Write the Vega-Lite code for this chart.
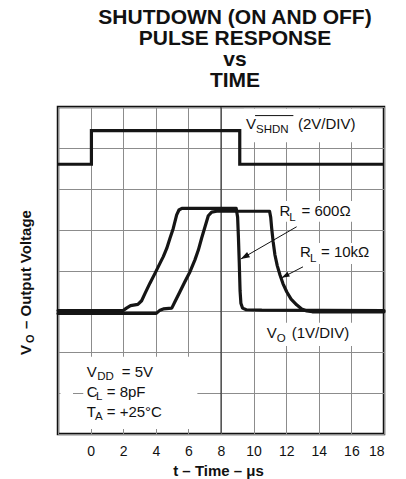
{
  "$schema": "https://vega.github.io/schema/vega-lite/v6.json",
  "width": 326,
  "height": 327,
  "autosize": {"type": "none"},
  "padding": {"left": 58, "top": 107, "right": 22, "bottom": 45},
  "background": "white",
  "title": {
    "text": ["SHUTDOWN (ON AND OFF)", "PULSE RESPONSE", "vs", "TIME"],
    "font": "Liberation Sans",
    "fontSize": 21,
    "fontWeight": "bold",
    "lineHeight": 21,
    "color": "#111111",
    "anchor": "middle",
    "frame": "group",
    "dx": 14,
    "offset": 16
  },
  "config": {
    "view": {"stroke": "#111111", "strokeWidth": 2.5},
    "font": "Liberation Sans"
  },
  "datasets": {
    "masks": [
      {"x": 9.4, "x2": 16.53, "y": 7.14, "y2": 7.96},
      {"x": 11.44, "x2": 16.4, "y": 5.19, "y2": 5.7},
      {"x": 12.66, "x2": 17.63, "y": 4.16, "y2": 4.67},
      {"x": 10.64, "x2": 16.1, "y": 2.15, "y2": 2.72},
      {"x": -0.45, "x2": 6.55, "y": 0.12, "y2": 1.89},
      {"x": -1.85, "x2": -1.08, "y": 0.9, "y2": 1.1}
    ],
    "center": [{"x": 8}],
    "overline": [{"x": 10.09, "x2": 12.44, "y": 7.79}],
    "curves": [
      {"s": "shdn", "i": 0, "x": -2, "y": 6.6},
      {"s": "shdn", "i": 1, "x": 0.05, "y": 6.6},
      {"s": "shdn", "i": 2, "x": 0.05, "y": 7.42},
      {"s": "shdn", "i": 3, "x": 9.15, "y": 7.42},
      {"s": "shdn", "i": 4, "x": 9.15, "y": 6.6},
      {"s": "shdn", "i": 5, "x": 18, "y": 6.6},
      {"s": "600", "i": 0, "x": -2, "y": 3.02},
      {"s": "600", "i": 1, "x": 2.0, "y": 3.02},
      {"s": "600", "i": 2, "x": 2.2, "y": 3.08},
      {"s": "600", "i": 3, "x": 2.45, "y": 3.14},
      {"s": "600", "i": 4, "x": 2.9, "y": 3.17},
      {"s": "600", "i": 5, "x": 3.13, "y": 3.26},
      {"s": "600", "i": 6, "x": 3.34, "y": 3.44},
      {"s": "600", "i": 7, "x": 3.64, "y": 3.69},
      {"s": "600", "i": 8, "x": 3.95, "y": 3.93},
      {"s": "600", "i": 9, "x": 4.26, "y": 4.18},
      {"s": "600", "i": 10, "x": 4.46, "y": 4.34},
      {"s": "600", "i": 11, "x": 4.67, "y": 4.54},
      {"s": "600", "i": 12, "x": 4.87, "y": 4.79},
      {"s": "600", "i": 13, "x": 5.07, "y": 5.03},
      {"s": "600", "i": 14, "x": 5.28, "y": 5.36},
      {"s": "600", "i": 15, "x": 5.42, "y": 5.48},
      {"s": "600", "i": 16, "x": 5.6, "y": 5.52},
      {"s": "600", "i": 17, "x": 8.93, "y": 5.52},
      {"s": "600", "i": 18, "x": 9.02, "y": 5.3},
      {"s": "600", "i": 19, "x": 9.07, "y": 4.8},
      {"s": "600", "i": 20, "x": 9.12, "y": 4.2},
      {"s": "600", "i": 21, "x": 9.17, "y": 3.5},
      {"s": "600", "i": 22, "x": 9.22, "y": 3.2},
      {"s": "600", "i": 23, "x": 9.32, "y": 3.08},
      {"s": "600", "i": 24, "x": 9.55, "y": 3.04},
      {"s": "600", "i": 25, "x": 10.5, "y": 3.03},
      {"s": "600", "i": 26, "x": 18, "y": 3.02},
      {"s": "10k", "i": 0, "x": -2, "y": 2.95},
      {"s": "10k", "i": 1, "x": 4.03, "y": 2.95},
      {"s": "10k", "i": 2, "x": 4.26, "y": 3.03},
      {"s": "10k", "i": 3, "x": 4.46, "y": 3.06},
      {"s": "10k", "i": 4, "x": 4.98, "y": 3.08},
      {"s": "10k", "i": 5, "x": 5.18, "y": 3.24},
      {"s": "10k", "i": 6, "x": 5.48, "y": 3.48},
      {"s": "10k", "i": 7, "x": 5.79, "y": 3.73},
      {"s": "10k", "i": 8, "x": 6.1, "y": 3.97},
      {"s": "10k", "i": 9, "x": 6.4, "y": 4.26},
      {"s": "10k", "i": 10, "x": 6.61, "y": 4.5},
      {"s": "10k", "i": 11, "x": 6.81, "y": 4.79},
      {"s": "10k", "i": 12, "x": 7.02, "y": 5.07},
      {"s": "10k", "i": 13, "x": 7.22, "y": 5.34},
      {"s": "10k", "i": 14, "x": 7.43, "y": 5.43},
      {"s": "10k", "i": 15, "x": 7.74, "y": 5.45},
      {"s": "10k", "i": 16, "x": 10.98, "y": 5.45},
      {"s": "10k", "i": 17, "x": 11.05, "y": 5.3},
      {"s": "10k", "i": 18, "x": 11.11, "y": 5.03},
      {"s": "10k", "i": 19, "x": 11.2, "y": 4.7},
      {"s": "10k", "i": 20, "x": 11.31, "y": 4.38},
      {"s": "10k", "i": 21, "x": 11.45, "y": 4.12},
      {"s": "10k", "i": 22, "x": 11.62, "y": 3.89},
      {"s": "10k", "i": 23, "x": 11.8, "y": 3.68},
      {"s": "10k", "i": 24, "x": 12.03, "y": 3.48},
      {"s": "10k", "i": 25, "x": 12.3, "y": 3.3},
      {"s": "10k", "i": 26, "x": 12.64, "y": 3.16},
      {"s": "10k", "i": 27, "x": 12.95, "y": 3.06},
      {"s": "10k", "i": 28, "x": 13.26, "y": 3.01},
      {"s": "10k", "i": 29, "x": 13.6, "y": 2.99},
      {"s": "10k", "i": 30, "x": 18, "y": 2.99}
    ],
    "arrows": [
      {"id": "a1", "x": 9.21, "y": 4.28, "x2": 12.64, "y2": 5.07},
      {"id": "a2", "x": 11.72, "y": 3.82, "x2": 13.03, "y2": 4.09}
    ],
    "main": [
      {"x": 9.534, "y": 7.462, "t": "V"},
      {"x": 12.724, "y": 7.462, "t": "(2V/DIV)"},
      {"x": 11.589, "y": 5.341, "t": "R"},
      {"x": 12.939, "y": 5.341, "t": "= 600Ω"},
      {"x": 12.847, "y": 4.338, "t": "R"},
      {"x": 14.135, "y": 4.338, "t": "= 10kΩ"},
      {"x": 10.804, "y": 2.341, "t": "V"},
      {"x": 12.337, "y": 2.341, "t": "(1V/DIV)"},
      {"x": -0.239, "y": 1.402, "t": "V"},
      {"x": 1.908, "y": 1.402, "t": "= 5V"},
      {"x": -0.239, "y": 0.913, "t": "C"},
      {"x": 0.988, "y": 0.913, "t": "= 8pF"},
      {"x": -0.239, "y": 0.423, "t": "T"},
      {"x": 0.988, "y": 0.423, "t": "= +25°C"}
    ],
    "subs": [
      {"x": 10.147, "y": 7.376, "t": "SHDN"},
      {"x": 12.19, "y": 5.218, "t": "L"},
      {"x": 13.46, "y": 4.215, "t": "L"},
      {"x": 11.417, "y": 2.258, "t": "O"},
      {"x": 0.411, "y": 1.321, "t": "DD"},
      {"x": 0.331, "y": 0.832, "t": "L"},
      {"x": 0.27, "y": 0.343, "t": "A"}
    ],
    "ymain": [
      {"x": -3.675, "y": 1.933, "t": "V"},
      {"x": -3.656, "y": 2.569, "t": "– Output Voltage"}
    ],
    "ysub": [
      {"x": -3.503, "y": 2.226, "t": "O"}
    ]
  },
  "encoding": {
    "x": {
      "field": "x",
      "type": "quantitative",
      "scale": {"domain": [-2, 18], "nice": false, "zero": false},
      "axis": {
        "values": [-2, 0, 2, 4, 6, 8, 10, 12, 14, 16, 18],
        "grid": true,
        "gridColor": "#8c8c8c",
        "gridWidth": 1,
        "gridOpacity": 1,
        "domain": false,
        "ticks": false,
        "tickSize": 0,
        "labelFont": "Liberation Sans",
        "labelFontSize": 14,
        "labelColor": "#111111",
        "labelPadding": 10,
        "labelExpr": "datum.value < 0 ? '' : datum.label",
        "title": "t – Time – μs",
        "titleFont": "Liberation Sans",
        "titleFontSize": 15,
        "titleFontWeight": "bold",
        "titleColor": "#111111",
        "titleX": 160,
        "titleY": 41,
        "titleBaseline": "alphabetic"
      }
    },
    "y": {
      "field": "y",
      "type": "quantitative",
      "scale": {"domain": [0, 8], "nice": false, "zero": false},
      "axis": {
        "values": [0, 1, 2, 3, 4, 5, 6, 7, 8],
        "grid": true,
        "gridColor": "#8c8c8c",
        "gridWidth": 1,
        "gridOpacity": 1,
        "domain": false,
        "ticks": false,
        "labels": false,
        "title": null
      }
    }
  },
  "layer": [
    {
      "data": {"name": "masks"},
      "mark": {"type": "rect", "color": "white"},
      "encoding": {"x2": {"field": "x2"}, "y2": {"field": "y2"}}
    },
    {
      "data": {"name": "center"},
      "mark": {"type": "rule", "color": "#222222", "strokeWidth": 1},
      "encoding": {"y": null}
    },
    {
      "data": {"name": "overline"},
      "mark": {"type": "rule", "color": "#111111", "strokeWidth": 1},
      "encoding": {"x2": {"field": "x2"}}
    },
    {
      "data": {"name": "curves"},
      "transform": [{"filter": "datum.s === 'shdn'"}],
      "mark": {"type": "line", "color": "#151515", "strokeWidth": 3.2, "strokeJoin": "miter"},
      "encoding": {"detail": {"field": "s"}, "order": {"field": "i", "type": "quantitative"}}
    },
    {
      "data": {"name": "curves"},
      "transform": [{"filter": "datum.s !== 'shdn'"}],
      "mark": {"type": "line", "color": "#151515", "strokeWidth": 3.2, "strokeJoin": "round", "strokeCap": "round"},
      "encoding": {"detail": {"field": "s"}, "order": {"field": "i", "type": "quantitative"}}
    },
    {
      "data": {"name": "arrows"},
      "mark": {"type": "rule", "color": "#111111", "strokeWidth": 1},
      "encoding": {"x2": {"field": "x2"}, "y2": {"field": "y2"}}
    },
    {
      "data": {"name": "arrows"},
      "transform": [{"filter": "datum.id === 'a1'"}],
      "mark": {"type": "point", "shape": "M0,0L1,3L-1,3Z", "size": 36, "angle": 240.5, "filled": true, "color": "#111111", "opacity": 1, "strokeWidth": 0}
    },
    {
      "data": {"name": "arrows"},
      "transform": [{"filter": "datum.id === 'a2'"}],
      "mark": {"type": "point", "shape": "M0,0L1,3L-1,3Z", "size": 28, "angle": 242.7, "filled": true, "color": "#111111", "opacity": 1, "strokeWidth": 0}
    },
    {
      "data": {"name": "main"},
      "mark": {"type": "text", "align": "left", "baseline": "alphabetic", "font": "Liberation Sans", "fontSize": 15, "color": "#111111"},
      "encoding": {"text": {"field": "t"}}
    },
    {
      "data": {"name": "subs"},
      "mark": {"type": "text", "align": "left", "baseline": "alphabetic", "font": "Liberation Sans", "fontSize": 11.5, "color": "#111111"},
      "encoding": {"text": {"field": "t"}}
    },
    {
      "data": {"name": "ymain"},
      "mark": {"type": "text", "align": "left", "baseline": "alphabetic", "angle": 270, "font": "Liberation Sans", "fontSize": 15, "fontWeight": "bold", "color": "#111111"},
      "encoding": {"text": {"field": "t"}}
    },
    {
      "data": {"name": "ysub"},
      "mark": {"type": "text", "align": "left", "baseline": "alphabetic", "angle": 270, "font": "Liberation Sans", "fontSize": 11, "fontWeight": "bold", "color": "#111111"},
      "encoding": {"text": {"field": "t"}}
    }
  ]
}
